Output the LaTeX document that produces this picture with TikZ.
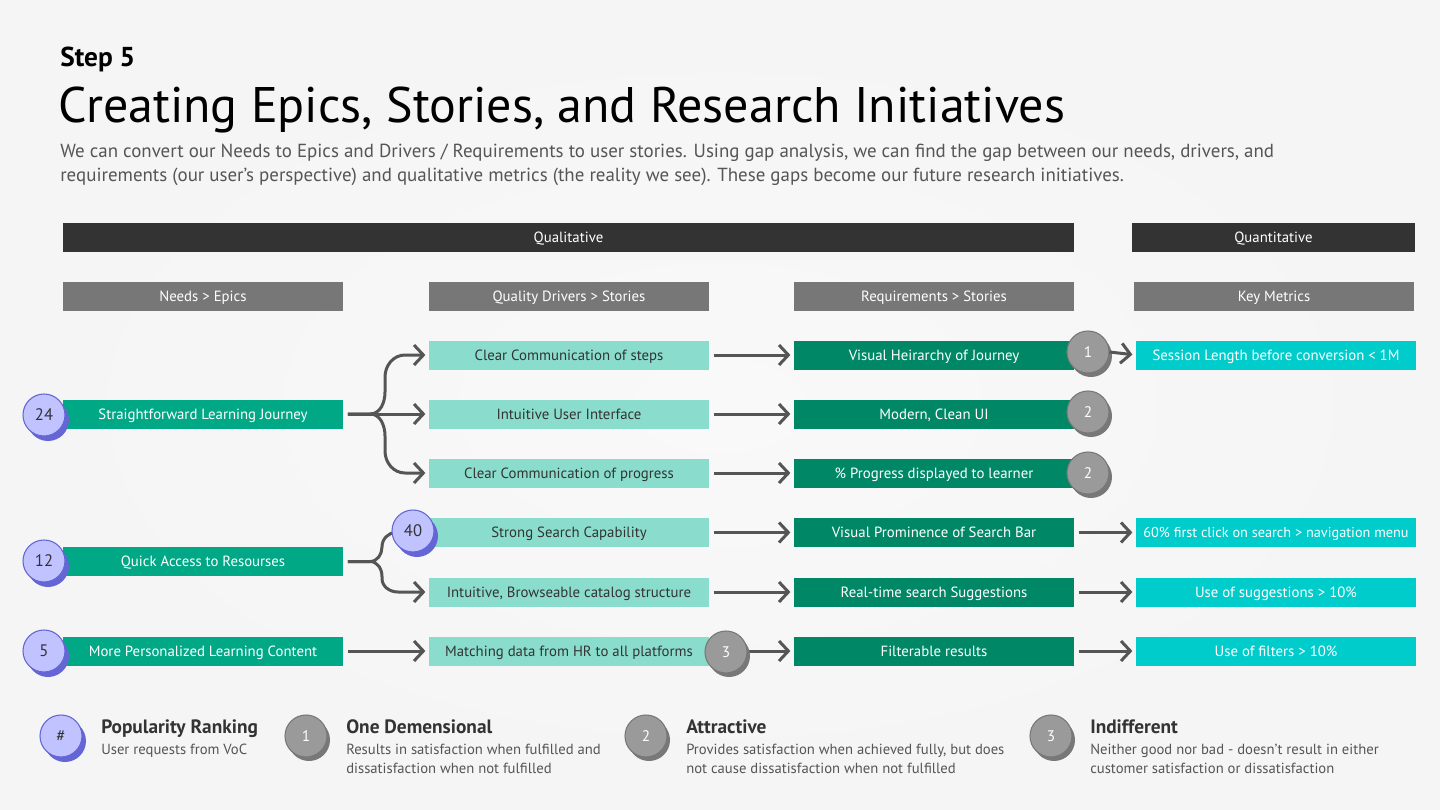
\documentclass[tikz,border=0pt]{standalone}
\usepackage{fontspec}
\setmainfont{PT Sans}
\usepackage{tikz}
\usetikzlibrary{arrows.meta, calc, positioning}
\definecolor{bgpage}{HTML}{F5F5F5}
\definecolor{bardark}{HTML}{333333}
\definecolor{headgrey}{HTML}{777777}
\definecolor{epicgreen}{HTML}{00A886}
\definecolor{drvteal}{HTML}{8ADDCC}
\definecolor{reqgreen}{HTML}{008866}
\definecolor{metcyan}{HTML}{00CCCC}
\definecolor{txtdark}{HTML}{333333}
\definecolor{txtgrey}{HTML}{555555}
\definecolor{flowgrey}{HTML}{555555}
\definecolor{rankfill}{HTML}{C0C3FF}
\definecolor{rankedge}{HTML}{6466D6}
\definecolor{kanofill}{HTML}{9A9A9A}
\definecolor{kanoedge}{HTML}{787878}
\newcommand{\boxfont}{\fontsize{11.1}{13}\selectfont}
\tikzset{
  bar/.style      = {fill=bardark, text=white, minimum height=21.75pt,
                     inner sep=0pt, text height=9.5pt, text depth=1.7pt,
                     font=\boxfont},
  cell/.style     = {minimum width=210pt, minimum height=21.75pt,
                     inner sep=0pt, text height=9.5pt, text depth=1.7pt,
                     font=\boxfont},
  colhead/.style  = {cell, fill=headgrey, text=white},
  epic/.style     = {cell, fill=epicgreen, text=white},
  driver/.style   = {cell, fill=drvteal, text=txtdark},
  story/.style    = {cell, fill=reqgreen, text=white},
  metric/.style   = {cell, fill=metcyan, text=white},
  flow/.style     = {draw=flowgrey, line width=2.25pt,
                     -{Straight Barb[length=7pt, width=15pt]},
                     shorten >=2.5pt, shorten <=3.5pt},
  rankball/.style = {circle, fill=rankfill, draw=rankedge, line width=0.8pt,
                     minimum size=31.5pt, inner sep=0pt, text=txtdark,
                     font=\fontsize{12.5}{14}\selectfont},
  rankshade/.style= {circle, fill=rankedge, minimum size=31.5pt, inner sep=0pt},
  kanoball/.style = {circle, fill=kanofill, draw=kanoedge, line width=0.8pt,
                     minimum size=31.5pt, inner sep=0pt, text=white,
                     font=\fontsize{11.5}{13}\selectfont},
  kanoshade/.style= {circle, fill=kanoedge, minimum size=31.5pt, inner sep=0pt},
  legtitle/.style = {anchor=base west, inner sep=0pt, text=txtdark,
                     font=\fontsize{14.5}{17}\selectfont\bfseries},
  legtext/.style  = {anchor=base west, inner sep=0pt, text=txtgrey,
                     font=\fontsize{11}{13}\selectfont},
}
\newcommand{\rankdisc}[3]{%
  \node[rankshade] (#1s) at ($(#2)+(4,5)$) {};
  \node[rankball] (#1) at (#2) {#3};}
\newcommand{\kanodisc}[3]{%
  \node[kanoshade] (#1s) at ($(#2)+(3,4)$) {};
  \node[kanoball] (#1) at (#2) {#3};}

\begin{document}
\begin{tikzpicture}[x=0.75pt, y=-0.75pt]
  \useasboundingbox (0,0) rectangle (1440,810);
  \fill[bgpage] (0,0) rectangle (1440,810);
  \shade[inner color=white!40!bgpage, outer color=bgpage, draw=none]
    (720,405) ellipse [x radius=700, y radius=380];
  % heading
  \node[anchor=base west, inner sep=0pt, text=black,
        font=\fontsize{20.5}{23}\selectfont\bfseries] (step) at (60,66) {Step 5};
  \node[anchor=base west, inner sep=0pt, text=black,
        font=\fontsize{37.5}{40}\selectfont] (title) at (58,122)
        {Creating Epics, Stories, and Research Initiatives};
  \node[anchor=base west, inner sep=0pt, text=txtgrey,
        font=\fontsize{14.2}{16}\selectfont] (desca) at (60,157)
        {We can convert our Needs to Epics and Drivers / Requirements to user stories. Using gap analysis, we can find the gap between our needs, drivers, and};
  \node[anchor=base west, inner sep=0pt, text=txtgrey,
        font=\fontsize{14.2}{16}\selectfont] (descb) at (60,181)
        {requirements (our user's perspective) and qualitative metrics (the reality we see). These gaps become our future research initiatives.};
  % bars and column heads
  \node[bar, minimum width=758.25pt] (qual) at (568.5,237.5) {Qualitative};
  \node[bar, minimum width=212.25pt] (quan) at (1273.5,237.5) {Quantitative};
  \node[colhead] (hneed) at (203,296.5) {Needs > Epics};
  \node[colhead] (hdrv)  at (569,296.5) {Quality Drivers > Stories};
  \node[colhead] (hreq)  at (934,296.5) {Requirements > Stories};
  \node[colhead] (hmet)  at (1274,296.5) {Key Metrics};
  % needs > epics
  \node[epic] (slj) at (203,414) {Straightforward Learning Journey};
  \node[epic] (qar) at (203,561.5) {Quick Access to Resourses};
  \node[epic] (mpl) at (203,651) {More Personalized Learning Content};
  % quality drivers
  \node[driver] (ccs) at (569,355) {Clear Communication of steps};
  \node[driver] (iui) at (569,414) {Intuitive User Interface};
  \node[driver] (ccp) at (569,473) {Clear Communication of progress};
  \node[driver] (ssc) at (569,532.5) {Strong Search Capability};
  \node[driver] (ibc) at (569,592) {Intuitive, Browseable catalog structure};
  \node[driver] (mdh) at (569,651) {Matching data from HR to all platforms};
  % requirements
  \node[story] (vhj) at (934,355) {Visual Heirarchy of Journey};
  \node[story] (mcu) at (934,414) {Modern, Clean UI};
  \node[story] (pdl) at (934,473) {\% Progress displayed to learner};
  \node[story] (vps) at (934,532.5) {Visual Prominence of Search Bar};
  \node[story] (rss) at (934,592) {Real-time search Suggestions};
  \node[story] (flr) at (934,651) {Filterable results};
  % key metrics
  \node[metric] (msl) at (1276,355) {Session Length before conversion < 1M};
  \node[metric, font=\fontsize{10.7}{13}\selectfont] (mfc) at (1276,532.5)
    {60\% first click on search > navigation menu};
  \node[metric] (mus) at (1276,592) {Use of suggestions > 10\%};
  \node[metric] (muf) at (1276,651) {Use of filters > 10\%};
  % branches
  \coordinate (ja) at (370,414);
  \coordinate (jb) at (370,561.5);
  \draw[flow] (slj.east) -- (ja) to[out=0, in=-90] ++(15,-22) -- ++(0,-15)
    to[out=90, in=180] ++(20,-22) -- (ccs.west);
  \draw[flow] (slj.east) -- (iui.west);
  \draw[flow] (slj.east) -- (ja) to[out=0, in=90] ++(15,22) -- ++(0,15)
    to[out=-90, in=180] ++(20,22) -- (ccp.west);
  \draw[flow] (qar.east) -- (jb) to[out=0, in=-90] ++(12,-14.5)
    to[out=90, in=180] ++(14,-14.5) -- (ssc.west);
  \draw[flow] (qar.east) -- (jb) to[out=0, in=90] ++(12,15) -- ++(0,2)
    to[out=-90, in=180] ++(16,13.5) -- (ibc.west);
  \draw[flow] (mpl.east) -- (mdh.west);
  % drivers to requirements
  \draw[flow] (ccs.east) -- (vhj.west);
  \draw[flow] (iui.east) -- (mcu.west);
  \draw[flow] (ccp.east) -- (pdl.west);
  \draw[flow] (ssc.east) -- (vps.west);
  \draw[flow] (ibc.east) -- (rss.west);
  \draw[flow] (mdh.east) -- (flr.west);
  % requirements to metrics
  \draw[flow] (vps.east) -- (mfc.west);
  \draw[flow] (rss.east) -- (mus.west);
  \draw[flow] (flr.east) -- (muf.west);
  % badges
  \rankdisc{ra}{44,415}{24}
  \rankdisc{rb}{44,561}{12}
  \rankdisc{rc}{44,651}{5}
  \rankdisc{rd}{413,531}{40}
  \kanodisc{ka}{1088,352}{1}
  \kanodisc{kb}{1088,412}{2}
  \kanodisc{kc}{1088,473}{2}
  \kanodisc{kd}{726,652}{3}
  \draw[flow, shorten <=0pt] (ka.east) -- (msl.west);
  % legend
  \rankdisc{lr}{61,736}{\#}
  \kanodisc{lk1}{306,736}{1}
  \kanodisc{lk2}{646,736}{2}
  \kanodisc{lk3}{1051,736}{3}
  \node[legtitle] (lta) at (101,733) {Popularity Ranking};
  \node[legtext]  (lda) at (101,754) {User requests from VoC};
  \node[legtitle] (ltb) at (346,733) {One Demensional};
  \node[legtext]  (ldb) at (346,754) {Results in satisfaction when fulfilled and};
  \node[legtext]  (ldb2) at (346,773) {dissatisfaction when not fulfilled};
  \node[legtitle] (ltc) at (686,733) {Attractive};
  \node[legtext]  (ldc) at (686,754) {Provides satisfaction when achieved fully, but does};
  \node[legtext]  (ldc2) at (686,773) {not cause dissatisfaction when not fulfilled};
  \node[legtitle] (ltd) at (1090,733) {Indifferent};
  \node[legtext]  (ldd) at (1090,754) {Neither good nor bad - doesn’t result in either};
  \node[legtext]  (ldd2) at (1090,773) {customer satisfaction or dissatisfaction};
\end{tikzpicture}
\end{document}
